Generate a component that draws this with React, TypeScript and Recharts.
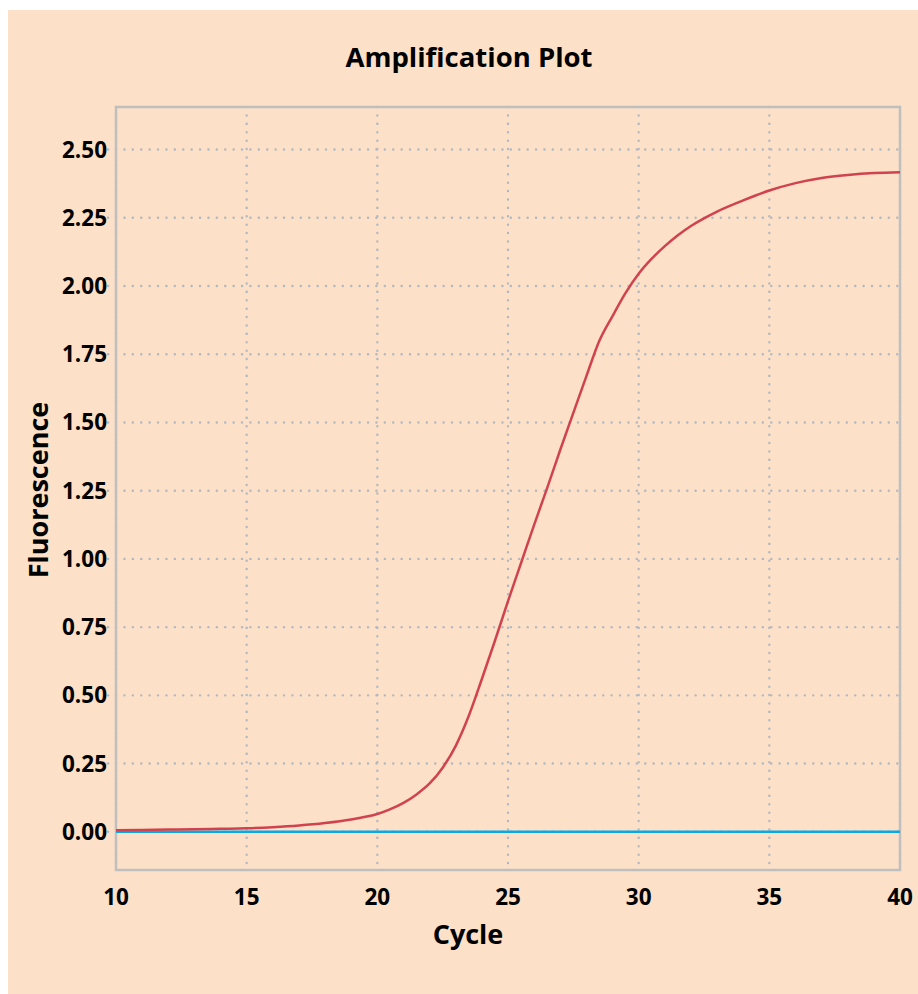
import { LineChart, Line, XAxis, YAxis, CartesianGrid, ReferenceLine, ReferenceArea, Label } from 'recharts'

const cycles = [10, 11, 12, 13, 14, 15, 16, 17, 18, 19, 19.5, 20, 20.5, 21, 21.5, 22, 22.5, 23, 23.5, 24, 24.5, 25, 25.5, 26, 26.5, 27, 27.5, 28, 28.5, 29, 29.5, 30, 30.5, 31, 31.5, 32, 32.5, 33, 34, 35, 36, 37, 38, 39, 40]
const fluorescence = [0.006, 0.007, 0.008, 0.009, 0.011, 0.013, 0.017, 0.023, 0.032, 0.045, 0.054, 0.065, 0.083, 0.106, 0.137, 0.177, 0.235, 0.315, 0.425, 0.56, 0.7, 0.845, 0.985, 1.125, 1.26, 1.4, 1.535, 1.67, 1.8, 1.89, 1.975, 2.045, 2.1, 2.146, 2.186, 2.22, 2.248, 2.273, 2.314, 2.35, 2.377, 2.396, 2.407, 2.414, 2.417]
const xTicks = [10, 15, 20, 25, 30, 35, 40]
const yTicks = [0, 0.25, 0.5, 0.75, 1.0, 1.25, 1.5, 1.75, 2.0, 2.25, 2.5]

const chartData = cycles.map((c, i) => ({ cycle: c, value: fluorescence[i] }))

const font = "'Open Sans', 'Noto Sans', sans-serif"
const gridColor = '#b3b8c0'
const frameColor = '#bfbfbf'

export default function App() {
  return (
    <div style={{ position: 'absolute', left: 8, top: 10, width: 910, height: 984, background: '#fce0c7', fontFamily: font }}>
      <div style={{ position: 'absolute', left: 0, width: 922, top: 28, textAlign: 'center', fontSize: 27.5, fontWeight: 700, color: '#000', lineHeight: '38px' }}>
        Amplification Plot
      </div>
      <LineChart
        width={910}
        height={984}
        data={chartData}
        margin={{ top: 97, right: 18, bottom: 44, left: 48 }}
        style={{ position: 'absolute', left: 0, top: 0 }}
      >
        <CartesianGrid stroke={gridColor} strokeWidth={2.4} strokeDasharray="0.1 8.3" strokeLinecap="round" horizontalValues={yTicks} verticalValues={xTicks} />
        <ReferenceArea x1={10} x2={40} y1={-0.14} y2={2.656} fill="none" stroke={frameColor} strokeWidth={2.5} ifOverflow="visible" />
        <XAxis
          dataKey="cycle"
          type="number"
          domain={[10, 40]}
          ticks={xTicks}
          height={80}
          axisLine={false}
          tickLine={false}
          tickMargin={13}
          tick={{ fill: '#000', fontSize: 22.5, fontWeight: 700, fontFamily: font }}
        >
          <Label
            content={() => (
              <text x={460} y={923} textAnchor="middle" dominantBaseline="central" fill="#000" fontSize={27} fontWeight={700} fontFamily={font}>
                Cycle
              </text>
            )}
          />
        </XAxis>
        <YAxis
          type="number"
          domain={[-0.14, 2.656]}
          allowDataOverflow
          ticks={yTicks}
          width={60}
          axisLine={false}
          tickLine={{ stroke: gridColor, strokeWidth: 2.4, strokeDasharray: '0.1 8.3', strokeLinecap: 'round' }}
          tickSize={8}
          tickMargin={1}
          tickFormatter={(v: number) => v.toFixed(2)}
          tick={{ fill: '#000', fontSize: 22.5, fontWeight: 700, fontFamily: font }}
        >
          <Label
            content={() => (
              <text x={29} y={480} transform="rotate(-90 29 480)" textAnchor="middle" dominantBaseline="central" fill="#000" fontSize={27} fontWeight={700} fontFamily={font}>
                Fluorescence
              </text>
            )}
          />
        </YAxis>
        <ReferenceLine y={0} stroke="#0aa8e6" strokeWidth={2.5} />
        <Line type="monotone" dataKey="value" stroke="#d0434e" strokeWidth={2.5} dot={false} isAnimationActive={false} />
      </LineChart>
    </div>
  )
}
